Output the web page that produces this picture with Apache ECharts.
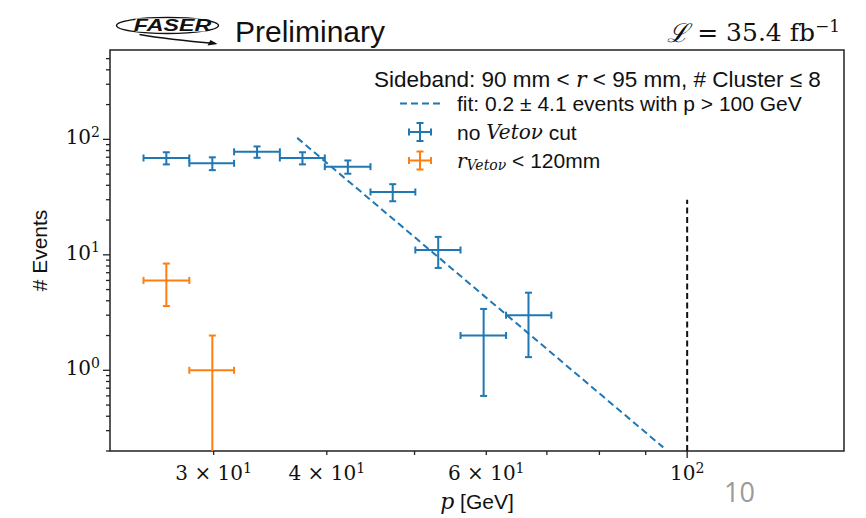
<!DOCTYPE html>
<html><head><meta charset="utf-8">
<script src="https://cdn.jsdelivr.net/npm/echarts@6/dist/echarts.min.js"></script>
<style>html,body{margin:0;padding:0;background:#fff}#c{width:866px;height:518px}</style>
</head><body><div id="c"></div>
<script>
// ---- data ----
const binLow    = [25.1, 28.2, 31.6, 35.5, 39.8, 44.7, 50.1, 56.2, 63.1];
const binHigh   = [28.2, 31.6, 35.5, 39.8, 44.7, 50.1, 56.2, 63.1, 70.8];
const binCenter = [26.6, 29.9, 33.5, 37.6, 42.2, 47.3, 53.1, 59.6, 66.8];
const noVetoCounts = [69, 62, 78, 69, 58, 35, 11, 2, 3];
const noVetoErr    = [8.3, 7.9, 8.8, 8.3, 7.6, 5.9, 3.3, 1.4, 1.7];
const vetoCenter = [26.6, 29.9];
const vetoLow    = [25.1, 28.2];
const vetoHigh   = [28.2, 31.6];
const vetoCounts = [6, 1];
const vetoErr    = [2.4, 1.0];
const fitP      = [37.1, 94.1];
const fitEvents = [103, 0.215];
const cutP      = [100, 100];
const cutEvents = [0.2, 30];
const xRange = [23.05, 149];
const yRange = [0.2, 594];
const xMinorTicks = [30, 40, 50, 60, 70, 80, 90];
const xMajorTicks = [100];
const xLabelValues = [30, 40, 60, 100];
const xLabelMantissa = ['3 × 10', '4 × 10', '6 × 10', '10'];
const xLabelExp = ['1', '1', '1', '2'];
const yMajorTicks = [1, 10, 100];
const yMinorTicks = [0.2, 0.3, 0.4, 0.5, 0.6, 0.7, 0.8, 0.9, 2, 3, 4, 5, 6, 7, 8, 9, 20, 30, 40, 50, 60, 70, 80, 90, 200, 300, 400, 500];
const yLabelExp = ['0', '1', '2'];

const BLUE = '#1f77b4', ORANGE = '#ff7f0e', INK = '#222';
const SANS = 'Liberation Sans, Arial, Helvetica, sans-serif';
const SERIF = 'DejaVu Serif, serif';

function errData(c, v, lo, hi, e) {
  return c.map((x, i) => [x, v[i], lo[i], hi[i], v[i] - e[i], v[i] + e[i]]);
}
function errRender(color) {
  return function (params, api) {
    const x = api.value(0), y = api.value(1);
    const xl = api.value(2), xh = api.value(3), yl = api.value(4), yh = api.value(5);
    const c = api.coord([x, y]);
    const pl = api.coord([xl, y]), ph = api.coord([xh, y]);
    const top = api.coord([x, yh]);
    const hasLow = yl > 0;
    const bot = hasLow ? api.coord([x, yl]) : [c[0], api.coord([x, yRange[0]])[1] + 3];
    const cap = 3.5;
    const st = { stroke: color, lineWidth: 2, fill: null };
    const ch = [
      { type: 'line', shape: { x1: pl[0], y1: c[1], x2: ph[0], y2: c[1] }, style: st },
      { type: 'line', shape: { x1: c[0], y1: top[1], x2: c[0], y2: bot[1] }, style: st },
      { type: 'line', shape: { x1: pl[0], y1: c[1] - cap, x2: pl[0], y2: c[1] + cap }, style: st },
      { type: 'line', shape: { x1: ph[0], y1: c[1] - cap, x2: ph[0], y2: c[1] + cap }, style: st },
      { type: 'line', shape: { x1: c[0] - cap, y1: top[1], x2: c[0] + cap, y2: top[1] }, style: st }
    ];
    if (hasLow) ch.push({ type: 'line', shape: { x1: c[0] - cap, y1: bot[1], x2: c[0] + cap, y2: bot[1] }, style: st });
    return { type: 'group', children: ch };
  };
}

const xTickData = xMinorTicks.map(v => [v, yRange[0], 0]).concat(xMajorTicks.map(v => [v, yRange[0], 1]));
const yTickData = yMinorTicks.map(v => [xRange[0], v, 0]).concat(yMajorTicks.map(v => [xRange[0], v, 1]));

const dims = ['x', 'y', 'a', 'b', 'c', 'd'];
const iconBox = 'M0 0h0.01v0.01h-0.01z M52 20h-0.01v-0.01h0.01z ';
const fitIcon = 'path://' + iconBox + 'M0 9h7v2H0z M11 9h7v2h-7z M22 9h7v2h-7z M33 9h7v2h-7z';
const errIcon = 'path://' + iconBox + 'M9 9h22v2H9z M19 0h2v20h-2z M8 6.5h2v7h-2z M30 6.5h2v7h-2z M16.5 0h7v2h-7z M16.5 18h7v2h-7z';

const NAME_FIT = 'fit: 0.2 ± 4.1 events with p > 100 GeV';
const NAME_NOVETO = 'no Vetoν cut';
const NAME_VETO = 'r_Vetoν < 120mm';

const chart = echarts.init(document.getElementById('c'), null, { renderer: 'svg' });
chart.setOption({
  animation: false,
  backgroundColor: '#fff',
  textStyle: { fontFamily: SANS },
  title: [
    { text: 'Preliminary', left: 230, top: 11, textStyle: { fontFamily: SANS, fontSize: 30, fontWeight: 'normal', color: '#111' } },
    { text: '{i|ℒ} = 35.4 fb{s|−1}', right: 21, top: 12,
      textStyle: { fontFamily: SERIF, fontSize: 25, fontWeight: 'normal', color: '#111',
        rich: { i: { fontFamily: SERIF, fontSize: 26, fontStyle: 'italic', color: '#111' },
                s: { fontFamily: SERIF, fontSize: 17, color: '#111', padding: [0, 0, 14, 0] } } } },
    { text: 'Sideband: 90 mm < {i|r} < 95 mm, # Cluster ≤ 8', left: 369, top: 63,
      textStyle: { fontFamily: SANS, fontSize: 22.5, fontWeight: 'normal', color: '#111',
        rich: { i: { fontFamily: SERIF, fontSize: 22, fontStyle: 'italic', color: '#111' } } } }
  ],
  legend: {
    orient: 'vertical', left: 400, top: 93, itemWidth: 52, itemHeight: 20, itemGap: 7.5,
    selectedMode: false, padding: 0,
    data: [
      { name: NAME_FIT, icon: fitIcon, itemStyle: { color: BLUE, borderWidth: 0 }, lineStyle: { width: 0 } },
      { name: NAME_NOVETO, icon: errIcon, itemStyle: { color: BLUE, borderWidth: 0 } },
      { name: NAME_VETO, icon: errIcon, itemStyle: { color: ORANGE, borderWidth: 0 } }
    ],
    formatter: function (n) {
      if (n === NAME_NOVETO) return 'no {i|Vetoν} cut';
      if (n === NAME_VETO) return '{i|r}{sub|Vetoν} < 120mm';
      return n;
    },
    textStyle: { fontFamily: SANS, fontSize: 21, color: '#111',
      rich: { i: { fontFamily: SERIF, fontStyle: 'italic', fontSize: 20, color: '#111' },
              sub: { fontFamily: SERIF, fontStyle: 'italic', fontSize: 14, color: '#111', padding: [9, 0, 0, 0] } } }
  },
  grid: { left: 110, right: 22, top: 50, bottom: 67, show: true, borderColor: INK, borderWidth: 1.5, backgroundColor: 'transparent' },
  xAxis: {
    type: 'log', logBase: 10, min: xRange[0], max: xRange[1],
    axisLine: { show: false }, axisTick: { show: false }, axisLabel: { show: false }, splitLine: { show: false },
    name: '{i|p} [GeV]', nameLocation: 'middle', nameGap: 39,
    nameTextStyle: { fontFamily: SANS, fontSize: 21, color: '#111',
      rich: { i: { fontFamily: SERIF, fontStyle: 'italic', fontSize: 22, color: '#111' } } }
  },
  yAxis: {
    type: 'log', logBase: 10, min: yRange[0], max: yRange[1],
    axisLine: { show: false }, axisTick: { show: false }, axisLabel: { show: false }, splitLine: { show: false },
    name: '# Events', nameLocation: 'middle', nameGap: 60, nameRotate: 90,
    nameTextStyle: { fontFamily: SANS, fontSize: 21, color: '#111' }
  },
  series: [
    { type: 'line', name: NAME_FIT, data: fitP.map((p, i) => [p, fitEvents[i]]), symbol: 'none', clip: true,
      lineStyle: { color: BLUE, width: 2, type: [7, 4] }, itemStyle: { color: BLUE }, z: 3 },
    { type: 'line', name: 'cut', data: cutP.map((p, i) => [p, cutEvents[i]]), symbol: 'none', clip: true,
      lineStyle: { color: '#111', width: 2, type: [6, 3.5] }, z: 3 },
    { type: 'custom', name: NAME_NOVETO, data: errData(binCenter, noVetoCounts, binLow, binHigh, noVetoErr),
      dimensions: dims, encode: { x: 0, y: 1 }, renderItem: errRender(BLUE), itemStyle: { color: BLUE }, clip: true, z: 4 },
    { type: 'custom', name: NAME_VETO, data: errData(vetoCenter, vetoCounts, vetoLow, vetoHigh, vetoErr),
      dimensions: dims, encode: { x: 0, y: 1 }, renderItem: errRender(ORANGE), itemStyle: { color: ORANGE }, clip: true, z: 4 },
    { type: 'custom', name: 'xticks', silent: true, data: xTickData, encode: { x: 0, y: 1 }, clip: false, z: 5,
      renderItem: function (params, api) {
        const p = api.coord([api.value(0), yRange[0]]);
        const len = api.value(2) ? 7 : 4;
        return { type: 'line', shape: { x1: p[0], y1: p[1], x2: p[0], y2: p[1] + len }, style: { stroke: INK, lineWidth: 1.3 } };
      } },
    { type: 'custom', name: 'yticks', silent: true, data: yTickData, encode: { x: 0, y: 1 }, clip: false, z: 5,
      renderItem: function (params, api) {
        const p = api.coord([xRange[0], api.value(1)]);
        const len = api.value(2) ? 7 : 4;
        return { type: 'line', shape: { x1: p[0], y1: p[1], x2: p[0] - len, y2: p[1] }, style: { stroke: INK, lineWidth: 1.3 } };
      } },
    { type: 'custom', name: 'xlabels', silent: true, data: xLabelValues.map(v => [v, yRange[0]]), encode: { x: 0, y: 1 }, clip: false, z: 5,
      renderItem: function (params, api) {
        const p = api.coord([api.value(0), yRange[0]]);
        const i = params.dataIndex;
        return { type: 'text', x: p[0], y: p[1] + 22, style: {
          text: '{m|' + xLabelMantissa[i] + '}{s|' + xLabelExp[i] + '}', align: 'center', verticalAlign: 'middle',
          rich: { m: { fontFamily: SERIF, fontSize: 20, fill: '#111' }, s: { fontFamily: SERIF, fontSize: 14, fill: '#111', padding: [0, 0, 11, 0] } } } };
      } },
    { type: 'custom', name: 'ylabels', silent: true, data: yMajorTicks.map(v => [xRange[0], v]), encode: { x: 0, y: 1 }, clip: false, z: 5,
      renderItem: function (params, api) {
        const p = api.coord([xRange[0], api.value(1)]);
        const i = params.dataIndex;
        return { type: 'text', x: p[0] - 10, y: p[1] - 2, style: {
          text: '{m|10}{s|' + yLabelExp[i] + '}', align: 'right', verticalAlign: 'middle',
          rich: { m: { fontFamily: SERIF, fontSize: 20, fill: '#111' }, s: { fontFamily: SERIF, fontSize: 14, fill: '#111', padding: [0, 0, 11, 0] } } } };
      } }
  ],
  graphic: [
    { type: 'group', left: 114, top: 15, children: [
      { type: 'ellipse', shape: { cx: 52, cy: 13, rx: 51, ry: 8 }, style: { stroke: '#111', lineWidth: 1.3, fill: 'none' } },
      { type: 'rect', shape: { x: 20, y: 6, width: 70, height: 13 }, style: { fill: '#fff' } },
      { type: 'text', x: 57, y: 13, scaleX: 1.45, style: { text: 'FASER', fontFamily: SANS, fontSize: 16, fontWeight: 'bold', fontStyle: 'italic', fill: '#111', align: 'center', verticalAlign: 'middle' } },
      { type: 'bezierCurve', shape: { x1: 24, y1: 22, x2: 100, y2: 31, cpx1: 52, cpy1: 27 }, style: { stroke: '#111', lineWidth: 1.5, fill: 'none' } },
      { type: 'polygon', shape: { points: [[102, 31.5], [92, 33], [95, 27.5]] }, style: { fill: '#111' } }
    ] },
    { type: 'text', left: 724, top: 478, style: { text: '10', fontFamily: 'Open Sans, Roboto, sans-serif', fontSize: 27, fill: '#9a9a9a' } }
  ]
});
</script></body></html>
